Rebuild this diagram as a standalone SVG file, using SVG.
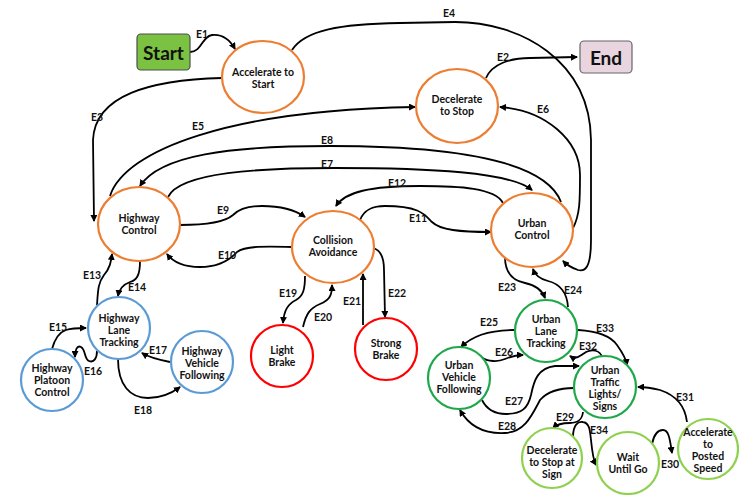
<svg xmlns="http://www.w3.org/2000/svg" width="739" height="495" viewBox="0 0 739 495">
<defs>
<marker id="ah" markerWidth="7" markerHeight="7" refX="6" refY="3.5" orient="auto" markerUnits="userSpaceOnUse">
<path d="M0,0 L7,3.5 L0,7 z" fill="#000"/>
</marker>
<style>
.n{fill:#fff;stroke-width:2.2}
.or{stroke:#ed7d31}.bl{stroke:#5b9bd5}.rd{stroke:#ff0000}.dg{stroke:#1ea84a}.lg{stroke:#8fd14f}
.t{font-family:Lato,"Liberation Sans",sans-serif;font-weight:bold;font-size:10.5px;fill:#111;text-anchor:middle;dominant-baseline:central}
.big{font-size:19px}
.e{fill:none;stroke:#000;stroke-width:1.8;marker-end:url(#ah)}
.l{font-family:Lato,"Liberation Sans",sans-serif;font-weight:bold;font-size:10.5px;fill:#111;text-anchor:middle;dominant-baseline:central}
</style>
</defs>
<rect width="739" height="495" fill="#fff"/>
<g id="connectors">
<path class="e" d="M190,52 C202,52 202,36 212,35 C222,34 230,40 235,49"/>
<path class="e" d="M486,78 C492,64 510,58 530,58 L577,57"/>
<path class="e" d="M222,78 C150,80 95,95 93,140 L94,221"/>
<path class="e" d="M292,50 C305,30 340,24 400,23 L455,22 C520,22 590,60 591,140 L591,240 C591,268 585,272 578,270 C572,268 566,264 563,261"/>
<path class="e" d="M110,196 C125,150 230,110 415,107"/>
<path class="e" d="M573,228 C580,215 580,200 580,175 C580,140 545,110 500,107"/>
<path class="e" d="M561,202 C545,160 450,146 330,146 C230,146 160,155 140,186"/>
<path class="e" d="M168,197 C180,172 260,168 335,168 C430,168 510,172 532,190"/>
<path class="e" d="M503,203 C495,188 460,186 420,186 C370,186 345,192 336,206"/>
<path class="e" d="M360,220 C365,208 375,206 385,206 C420,206 425,215 432,222 C440,230 460,232 491,232"/>
<path class="e" d="M180,225 C205,225 225,222 233,215 C240,208 250,206 262,206 C280,206 295,210 305,217"/>
<path class="e" d="M292,247 C265,246 245,246 237,252 C228,262 215,267 200,267 C185,267 173,262 167,254"/>
<path class="e" d="M97,305 C98,290 98,283 104,275 C110,268 111,262 112,254"/>
<path class="e" d="M140,261 C140,275 137,280 130,282 C122,285 119,290 118,296"/>
<path class="e" d="M52,349 C55,338 60,332 66,330 C72,328 78,328 86,328"/>
<path class="e" d="M97,351 C97,358 94,363 89,361 C84,359 86,350 81,347 C77,345 75,350 75,357"/>
<path class="e" d="M170,362 C160,360 150,358 142,353"/>
<path class="e" d="M118,359 C118,385 130,398 148,398 C162,398 172,393 180,387"/>
<path class="e" d="M305,276 C305,290 303,296 296,300 C288,304 284,310 283,323"/>
<path class="e" d="M303,327 C306,314 310,308 320,304 C330,300 332,295 332,285"/>
<path class="e" d="M363,325 L363,274"/>
<path class="e" d="M373,248 C381,250 384,258 384,270 L385,317"/>
<path class="e" d="M505,257 C505,270 510,280 525,283 C535,285 542,290 545,298"/>
<path class="e" d="M568,307 C567,292 560,284 548,281 C540,279 535,275 533,269"/>
<path class="e" d="M514,330 C495,330 475,333 461,347"/>
<path class="e" d="M481,357 C488,362 498,362 505,359 C512,356 516,355 523,355"/>
<path class="e" d="M482,400 C487,410 495,414 506,414 C522,414 528,408 531,395 C534,380 538,368 555,366 L579,366"/>
<path class="e" d="M574,388 C560,388 548,391 540,400 C532,415 525,432 505,433 C485,434 470,428 460,410"/>
<path class="e" d="M583,412 C582,420 578,423 570,423 C562,423 557,424 553,428"/>
<path class="e" d="M687,422 C685,405 675,395 660,390 C652,388 645,387 638,387"/>
<path class="e" d="M578,330 C595,331 610,335 617,345 C622,352 626,358 627,365"/>
<path class="e" d="M602,357 C600,350 592,349 586,352 C580,356 576,360 570,356"/>
<path class="e" d="M573,437 C573,425 578,421 583,422 C590,423 590,432 591,440 C592,450 593,460 596,465"/>
<path class="e" d="M652,444 C654,434 658,430 663,430 C669,430 670,440 672,453"/>
</g>
<g id="edge-labels">
<text class="l" x="202" y="34">E1</text>
<text class="l" x="503" y="57">E2</text>
<text class="l" x="97" y="117">E3</text>
<text class="l" x="449" y="13">E4</text>
<text class="l" x="198" y="126">E5</text>
<text class="l" x="543" y="109">E6</text>
<text class="l" x="327" y="164">E7</text>
<text class="l" x="327" y="140">E8</text>
<text class="l" x="223" y="210">E9</text>
<text class="l" x="227" y="255">E10</text>
<text class="l" x="418" y="218">E11</text>
<text class="l" x="397" y="183">E12</text>
<text class="l" x="92" y="275">E13</text>
<text class="l" x="137" y="287">E14</text>
<text class="l" x="58" y="327">E15</text>
<text class="l" x="93" y="371">E16</text>
<text class="l" x="158" y="350">E17</text>
<text class="l" x="143" y="410">E18</text>
<text class="l" x="288" y="293">E19</text>
<text class="l" x="323" y="317">E20</text>
<text class="l" x="352" y="301">E21</text>
<text class="l" x="397" y="293">E22</text>
<text class="l" x="507" y="287">E23</text>
<text class="l" x="573" y="290">E24</text>
<text class="l" x="489" y="322">E25</text>
<text class="l" x="504" y="352">E26</text>
<text class="l" x="514" y="401">E27</text>
<text class="l" x="507" y="426">E28</text>
<text class="l" x="565" y="417">E29</text>
<text class="l" x="670" y="464">E30</text>
<text class="l" x="685" y="397">E31</text>
<text class="l" x="588" y="346">E32</text>
<text class="l" x="605" y="328">E33</text>
<text class="l" x="599" y="430">E34</text>
</g>
<g id="start">
<rect x="137" y="34" width="53" height="36" rx="4" fill="#7cc242" stroke="#4d4d4d" stroke-width="1.2"/>
<text class="t big" x="163.5" y="52">Start</text>
</g>
<g id="end">
<rect x="580" y="41" width="52" height="32" rx="4" fill="#e8d5df" stroke="#666" stroke-width="1.2"/>
<text class="t big" x="606" y="57">End</text>
</g>
<g id="accelerate-to-start">
<ellipse class="n or" cx="263" cy="77" rx="41" ry="36"/>
<text class="t" x="263" y="71.5">Accelerate to</text>
<text class="t" x="263" y="83.5">Start</text>
</g>
<g id="decelerate-to-stop">
<ellipse class="n or" cx="457" cy="106" rx="41" ry="37"/>
<text class="t" x="457" y="98.5">Decelerate</text>
<text class="t" x="457" y="110.5">to Stop</text>
</g>
<g id="highway-control">
<ellipse class="n or" cx="139" cy="224" rx="41" ry="37"/>
<text class="t" x="139" y="217.5">Highway</text>
<text class="t" x="139" y="229.5">Control</text>
</g>
<g id="collision-avoidance">
<ellipse class="n or" cx="333" cy="247" rx="41" ry="36"/>
<text class="t" x="333" y="239.5">Collision</text>
<text class="t" x="333" y="251.5">Avoidance</text>
</g>
<g id="urban-control">
<ellipse class="n or" cx="532" cy="230" rx="41" ry="37"/>
<text class="t" x="532" y="222.5">Urban</text>
<text class="t" x="532" y="234.5">Control</text>
</g>
<g id="highway-lane-tracking">
<circle class="n bl" cx="119" cy="328" r="31"/>
<text class="t" x="119" y="318">Highway</text>
<text class="t" x="119" y="330">Lane</text>
<text class="t" x="119" y="342">Tracking</text>
</g>
<g id="highway-platoon-control">
<circle class="n bl" cx="52" cy="380" r="31"/>
<text class="t" x="52" y="368">Highway</text>
<text class="t" x="52" y="380">Platoon</text>
<text class="t" x="52" y="392">Control</text>
</g>
<g id="highway-vehicle-following">
<circle class="n bl" cx="202" cy="362" r="31"/>
<text class="t" x="202" y="351">Highway</text>
<text class="t" x="202" y="363">Vehicle</text>
<text class="t" x="202" y="375">Following</text>
</g>
<g id="light-brake">
<circle class="n rd" cx="282" cy="356" r="31"/>
<text class="t" x="282" y="349.5">Light</text>
<text class="t" x="282" y="361.5">Brake</text>
</g>
<g id="strong-brake">
<circle class="n rd" cx="386" cy="349" r="31"/>
<text class="t" x="386" y="342.5">Strong</text>
<text class="t" x="386" y="354.5">Brake</text>
</g>
<g id="urban-lane-tracking">
<circle class="n dg" cx="546" cy="331" r="31"/>
<text class="t" x="546" y="319">Urban</text>
<text class="t" x="546" y="331">Lane</text>
<text class="t" x="546" y="343">Tracking</text>
</g>
<g id="urban-vehicle-following">
<circle class="n dg" cx="459" cy="378" r="31"/>
<text class="t" x="459" y="365">Urban</text>
<text class="t" x="459" y="377">Vehicle</text>
<text class="t" x="459" y="389">Following</text>
</g>
<g id="urban-traffic-lights-signs">
<circle class="n dg" cx="605" cy="387" r="31"/>
<text class="t" x="605" y="369.5">Urban</text>
<text class="t" x="605" y="381.5">Traffic</text>
<text class="t" x="605" y="393.5">Lights/</text>
<text class="t" x="605" y="405.5">Signs</text>
</g>
<g id="decelerate-to-stop-at-sign">
<circle class="n lg" cx="552" cy="458" r="30"/>
<text class="t" x="552" y="450">Decelerate</text>
<text class="t" x="552" y="462">to Stop at</text>
<text class="t" x="552" y="474">Sign</text>
</g>
<g id="wait-until-go">
<circle class="n lg" cx="628" cy="463" r="31"/>
<text class="t" x="628" y="456.5">Wait</text>
<text class="t" x="628" y="468.5">Until Go</text>
</g>
<g id="accelerate-to-posted-speed">
<circle class="n lg" cx="708" cy="449" r="30"/>
<text class="t" x="708" y="431.5">Accelerate</text>
<text class="t" x="708" y="443.5">to</text>
<text class="t" x="708" y="455.5">Posted</text>
<text class="t" x="708" y="467.5">Speed</text>
</g>
</svg>
